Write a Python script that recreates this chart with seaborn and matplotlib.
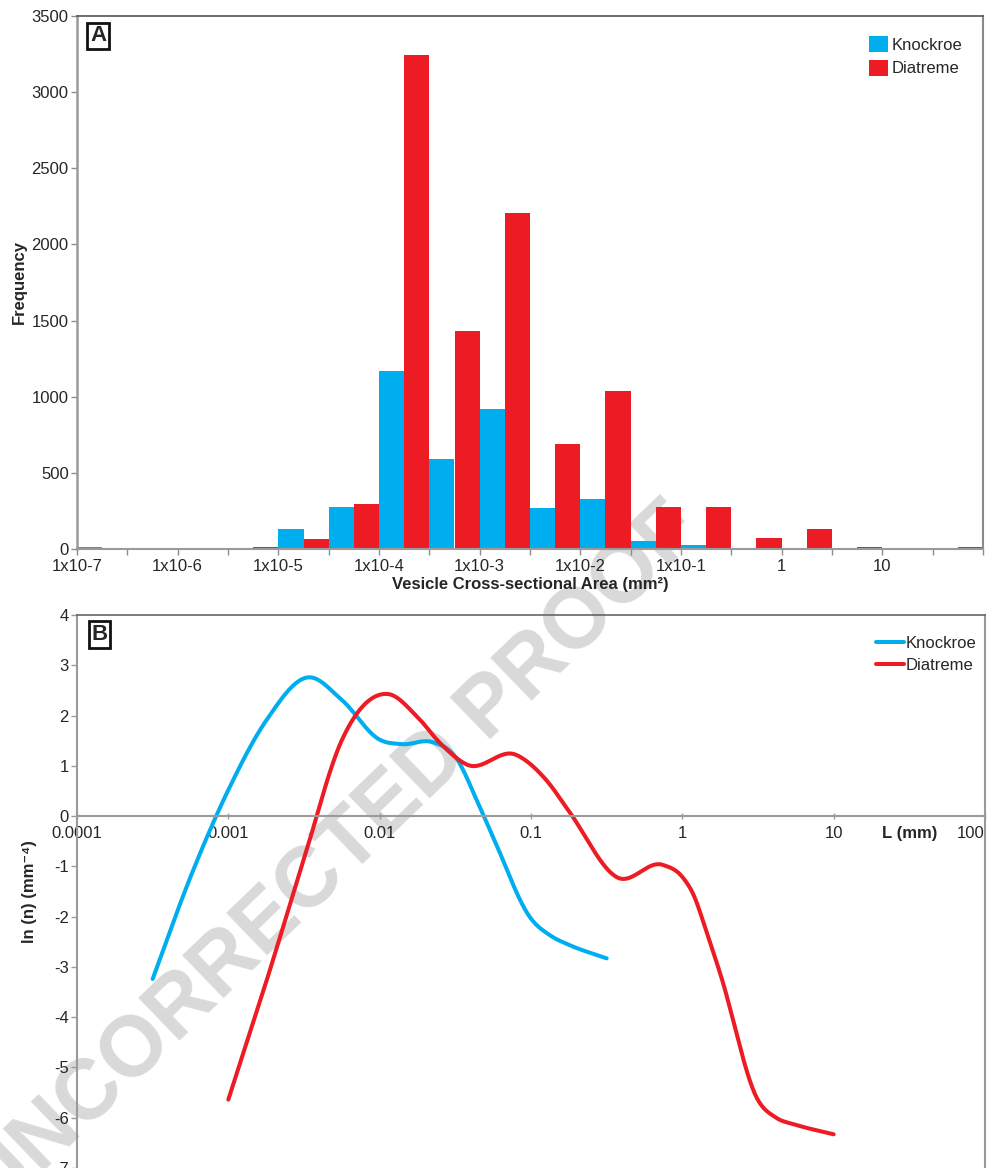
import numpy as np
import pandas as pd
import matplotlib
matplotlib.use("Agg")
import matplotlib.pyplot as plt
import seaborn as sns

sns.set_style("white")
plt.rcParams["font.family"] = ["Liberation Sans", "DejaVu Sans"]
plt.rcParams["axes.unicode_minus"] = False

BLUE = "#00AEEF"
RED = "#ED1C24"
FS = 12

# ---- Panel A: vesicle cross-sectional area, half-decade bins from 1e-7 to 1e2 mm² ----
bin_lower_exp = [-7.0, -6.5, -6.0, -5.5, -5.0, -4.5, -4.0, -3.5, -3.0,
                 -2.5, -2.0, -1.5, -1.0, -0.5, 0.0, 0.5, 1.0, 1.5]
knockroe_freq = [12, 0, 0, 0, 133, 278, 1170, 592, 921, 271, 330, 54, 28, 0, 0, 0, 0, 0]
diatreme_freq = [0, 0, 0, 15, 68, 297, 3243, 1432, 2207, 691, 1039, 278, 278, 74, 133, 15, 0, 15]
decade_labels = ["1x10-7", "1x10-6", "1x10-5", "1x10-4", "1x10-3",
                 "1x10-2", "1x10-1", "1", "10"]
sites = ["Knockroe", "Diatreme"]

# ---- Panel B: smoothed size distributions, ln(n) against L (mm) ----
knockroe_log10L = [-3.5, -3.25, -3.0, -2.75, -2.47, -2.25, -2.0, -1.85, -1.65,
                   -1.5, -1.34, -1.25, -1.0, -0.87, -0.75, -0.5]
knockroe_lnn = [-3.24, -1.21, 0.52, 1.9, 2.76, 2.31, 1.52, 1.43, 1.47,
                1.18, 0.19, -0.42, -2.04, -2.38, -2.56, -2.83]
diatreme_log10L = [-3.0, -2.75, -2.5, -2.25, -1.95, -1.75, -1.6, -1.42, -1.1, -0.9,
                   -0.75, -0.43, -0.13, 0.0, 0.07, 0.157, 0.25, 0.5, 0.62, 0.75, 1.0]
diatreme_lnn = [-5.64, -3.3, -0.85, 1.51, 2.43, 1.97, 1.45, 1.02, 1.22, 0.72,
                0.1, -1.22, -0.97, -1.21, -1.54, -2.27, -3.13, -5.65, -6.0, -6.14, -6.33]
L_ticks = [1e-4, 1e-3, 1e-2, 1e-1, 1, 10, 100]
L_tick_labels = ["0.0001", "0.001", "0.01", "0.1", "1", "10", "100"]


def smooth_curve(xk, yk, n=500):
    """Cubic Hermite line through the knots with three-point tangents."""
    x = np.asarray(xk, float)
    y = np.asarray(yk, float)
    h = np.diff(x)
    d = np.diff(y) / h
    m = np.empty_like(y)
    m[1:-1] = (d[:-1] * h[1:] + d[1:] * h[:-1]) / (h[:-1] + h[1:])
    m[0] = d[0]
    m[-1] = d[-1]
    xs = np.linspace(x[0], x[-1], n)
    i = np.clip(np.searchsorted(x, xs, side="right") - 1, 0, len(h) - 1)
    t = (xs - x[i]) / h[i]
    h00 = 2 * t**3 - 3 * t**2 + 1
    h10 = t**3 - 2 * t**2 + t
    h01 = -2 * t**3 + 3 * t**2
    h11 = t**3 - t**2
    ys = h00 * y[i] + h10 * h[i] * m[i] + h01 * y[i + 1] + h11 * h[i] * m[i + 1]
    return xs, ys


fig = plt.figure(figsize=(9.89, 11.68), dpi=100)
fig.patch.set_facecolor("white")

W, H = 989.0, 1168.0
axA = fig.add_axes([77 / W, (H - 549) / H, 906 / W, 533 / H])
axB = fig.add_axes([77 / W, 0.0, 908 / W, 553 / H])
for ax in (axA, axB):
    ax.set_facecolor("none")

# ---------------- Panel A ----------------
cats = [f"{e:+.1f}" for e in bin_lower_exp]
dfA = pd.DataFrame({
    "bin": cats * 2,
    "freq": knockroe_freq + diatreme_freq,
    "site": [sites[0]] * len(cats) + [sites[1]] * len(cats),
})
sns.barplot(data=dfA, x="bin", y="freq", hue="site", order=cats, hue_order=sites,
            palette=[BLUE, RED], width=1.0, gap=0, saturation=1, dodge=True,
            linewidth=0, ax=axA)
axA.set_xlim(-0.5, len(cats) - 0.5)
axA.set_ylim(0, 3500)
axA.set_yticks(np.arange(0, 3501, 500))
bounds = np.arange(-0.5, len(cats), 1.0)
axA.set_xticks(bounds)
axA.set_xticklabels([decade_labels[k // 2] if (k % 2 == 0 and k // 2 < len(decade_labels)) else ""
                     for k in range(len(bounds))])
axA.tick_params(axis="x", length=4, width=1, color="#8c8c8c", direction="out",
                pad=3, labelsize=FS, bottom=True)
axA.tick_params(axis="y", length=4, width=1, color="#8c8c8c", direction="out",
                pad=2, labelsize=FS, left=True)
axA.set_xlabel("Vesicle Cross-sectional Area (mm²)", fontsize=FS, fontweight="bold",
               labelpad=2)
axA.set_ylabel("Frequency", fontsize=FS, fontweight="bold", labelpad=3)
axA.spines["left"].set_color("#9a9a9a")
axA.spines["left"].set_linewidth(1.8)
axA.spines["bottom"].set_color("#9a9a9a")
axA.spines["bottom"].set_linewidth(1.5)
axA.spines["top"].set_color("#555555")
axA.spines["top"].set_linewidth(1.2)
axA.spines["right"].set_color("#8a8a8a")
axA.spines["right"].set_linewidth(1.5)
sns.move_legend(axA, "upper right", bbox_to_anchor=(0.977, 0.962), frameon=False,
                title=None, fontsize=FS, handlelength=1.1, handleheight=1.1,
                handletextpad=0.22, labelspacing=0.4, borderpad=0, borderaxespad=0)
axA.text(0.0232, 0.963, "A", transform=axA.transAxes, ha="center", va="center",
         fontsize=16, fontweight="bold",
         bbox=dict(boxstyle="square,pad=0.12", fc="white", ec="#111111", lw=2))

# ---------------- Panel B ----------------
rows = []
for name, lx, ly in ((sites[0], knockroe_log10L, knockroe_lnn),
                     (sites[1], diatreme_log10L, diatreme_lnn)):
    xs, ys = smooth_curve(lx, ly)
    rows.append(pd.DataFrame({"L": 10 ** xs, "lnn": ys, "site": name}))
dfB = pd.concat(rows, ignore_index=True)

axB.set_xscale("log")
sns.lineplot(data=dfB, x="L", y="lnn", hue="site", hue_order=sites,
             palette=[BLUE, RED], sort=False, estimator=None, linewidth=2.9,
             solid_capstyle="round", ax=axB)
axB.set_xlim(L_ticks[0], L_ticks[-1])
axB.set_ylim(-7, 4)
axB.set_yticks(np.arange(-7, 5, 1))
axB.set_xticks(L_ticks)
axB.set_xticklabels(L_tick_labels)
axB.minorticks_off()
axB.spines["bottom"].set_position(("data", 0))
for s in ("left", "bottom", "right"):
    axB.spines[s].set_color("#9a9a9a")
    axB.spines[s].set_linewidth(1.5)
axB.spines["top"].set_color("#666666")
axB.spines["top"].set_linewidth(1.2)
axB.tick_params(axis="x", length=4, width=1, color="#9a9a9a", direction="inout",
                pad=5, labelsize=FS, bottom=True)
axB.tick_params(axis="y", length=4, width=1, color="#9a9a9a", direction="out",
                pad=2, labelsize=FS, left=True)
axB.set_xlabel("")
axB.set_ylabel("ln (n) (mm⁻⁴)", fontsize=FS, fontweight="bold", labelpad=12)
axB.annotate("L (mm)", xy=(10 ** 1.5, 0), xytext=(0, -7), textcoords="offset points",
             ha="center", va="top", fontsize=FS, fontweight="bold")
sns.move_legend(axB, "upper right", bbox_to_anchor=(0.991, 0.962), frameon=False,
                title=None, fontsize=FS, handlelength=1.7, handletextpad=0.1,
                labelspacing=0.4, borderpad=0, borderaxespad=0)
for line in axB.get_legend().get_lines():
    line.set_linewidth(2.9)
axB.text(0.0248, 0.9647, "B", transform=axB.transAxes, ha="center", va="center",
         fontsize=16, fontweight="bold",
         bbox=dict(boxstyle="square,pad=0.12", fc="white", ec="#111111", lw=2))

# last tick label sits flush against the right edge of the frame
last_tick = axB.xaxis.get_major_ticks()[-1]
last_tick.label1.set_horizontalalignment("right")

# proof watermark behind both panels
fig.text(335 / W, 1 - 860 / H, "UNCORRECTED PROOF", rotation=44, fontsize=61,
         fontweight="bold", color="#d9d9d9", ha="center", va="center",
         rotation_mode="anchor", zorder=-1)

fig.savefig("out.png", dpi=100, facecolor="white")
